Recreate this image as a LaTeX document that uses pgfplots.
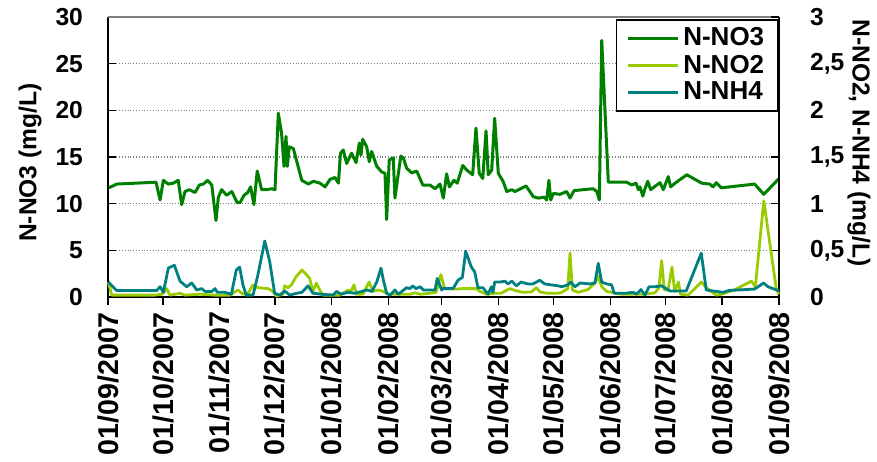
\documentclass[border=0pt]{standalone}
\usepackage{fontspec}
\setmainfont{Liberation Sans}
\usepackage{pgfplots}
\pgfplotsset{compat=1.18}

\definecolor{cno3}{RGB}{0,128,0}
\definecolor{cno2}{RGB}{153,204,0}
\definecolor{cnh4}{RGB}{0,128,128}

\pgfplotsset{
  base/.style={
    scale only axis, width=335.5pt, height=140pt,
    xmin=0, xmax=366, clip=false,
    /pgf/number format/assume math mode=true,
    tick label style={font=\bfseries\fontsize{12.3}{14}\selectfont},
    label style={font=\bfseries\fontsize{12.3}{14}\selectfont},
    axis line style={line width=0.8pt},
    every tick/.style={black, line width=0.8pt},
    major tick length=4pt,
  }
}

\begin{document}
\begin{tikzpicture}
% left axis: N-NO3 (mg/L), x in days from 01/09/2007
\begin{axis}[base,
  axis x line*=bottom, axis y line*=left,
  ymin=0, ymax=30, ytick={0,5,...,30},
  xtick={0,30,61,91,122,153,182,213,243,274,304,335,366},
  xticklabels={01/09/2007,01/10/2007,01/11/2007,01/12/2007,01/01/2008,01/02/2008,01/03/2008,01/04/2008,01/05/2008,01/06/2008,01/07/2008,01/08/2008,01/09/2008},
  xtick align=outside, ytick align=inside,
  x tick label style={rotate=90, anchor=east, font=\bfseries\fontsize{14.3}{16}\selectfont},
  y tick label style={xshift=-9pt},
  ymajorgrids, grid style={gray, densely dotted, line width=0.6pt},
  ylabel={N-NO3 (mg/L)},
  ylabel style={at={([xshift=-39pt]axis description cs:0,0.48)}, anchor=center},
]
\addplot[cno3, line width=1.5pt, line join=round] coordinates {
(0.5,11.7)(4.7,12.1)(26.2,12.3)(28.4,10.4)(30.2,12.5)(32.9,12.1)(35.6,12.2)(38.3,12.5)
(40.2,9.9)(42.0,11.3)(44.3,11.5)(47.5,11.2)(49.8,12.0)(52.0,12.1)(54.4,12.5)(56.6,12.0)
(58.9,8.2)(60.2,10.7)(62.0,11.5)(64.7,10.9)(67.5,11.3)(70.5,10.1)(72.0,10.1)(74.2,10.9)
(76.2,11.2)(77.8,11.8)(79.6,9.9)(81.4,13.5)(83.8,11.5)(86.6,11.5)(89.3,11.6)(91.1,11.5)
(92.9,19.7)(94.7,17.5)(96.0,14.0)(97.1,17.2)(97.8,14.0)(98.9,16.1)(101.1,15.9)(105.7,12.5)
(109.3,12.1)(112.0,12.4)(115.6,12.2)(118.4,11.8)(121.1,12.6)(123.8,12.8)(125.7,12.2)
(126.8,15.4)(128.3,15.75)(130.2,14.3)(131.1,14.7)(132.9,15.4)(135.3,14.4)(137.1,16.5)
(138.0,15.2)(138.9,16.9)(141.1,16.1)(142.5,14.5)(143.8,15.6)(146.6,14.0)(149.3,13.4)
(151.1,13.25)(152.0,8.3)(153.4,14.7)(155.6,14.9)(156.5,10.6)(159.7,15.1)(161.1,14.9)
(162.9,13.8)(165.7,13.3)(168.4,13.5)(171.7,12.0)(175.6,12.0)(178.4,11.6)(181.1,12.1)
(182.9,10.6)(184.7,13.2)(186.2,11.8)(188.7,12.5)(190.5,12.2)(193.5,14.1)(195.7,13.6)
(198.9,13.1)(200.7,18.1)(202.5,13.25)(204.4,12.7)(206.2,17.8)(207.4,13.1)(209.3,13.6)
(210.9,19.15)(212.9,13.25)(215.6,12.35)(217.5,11.3)(220.2,11.5)(222.0,11.3)(228.0,11.9)
(232.0,10.75)(234.7,10.6)(238.0,10.7)(239.3,10.4)(240.5,12.5)(241.5,10.4)(242.9,11.1)
(246.5,11.0)(250.2,11.3)(252.0,10.6)(254.2,11.4)(259.3,11.5)(264.7,11.6)(266.6,11.3)
(268.0,10.4)(269.3,27.5)(272.9,12.3)(282.9,12.3)(285.7,12.0)(288.0,12.2)(289.3,11.5)
(290.2,11.8)(291.7,10.8)(292.9,11.6)(294.4,12.4)(296.0,11.5)(299.3,12.0)(301.1,12.25)
(302.9,11.5)(305.6,12.9)(306.9,11.8)(309.3,12.2)(315.7,13.1)(323.8,12.2)(328.2,12.1)
(330.0,11.8)(331.8,12.25)(334.5,11.7)(352.7,12.1)(357.7,11.0)(366.0,12.7)
};
\draw[gray, line width=1pt] (rel axis cs:0,1) -- (rel axis cs:1,1);
\end{axis}

% right axis: N-NO2, N-NH4 (mg/L)
\begin{axis}[base,
  axis x line=none, axis y line*=right,
  ymin=0, ymax=3, ytick={0,0.5,...,3},
  /pgf/number format/use comma,
  ytick align=inside,
  y tick label style={xshift=12pt},
  ylabel={N-NO2, N-NH4 (mg/L)},
  every axis y label/.style={at={([xshift=40pt]axis description cs:1,0.55)}, rotate=-90, anchor=center,
    font=\bfseries\fontsize{12.3}{14}\selectfont},
  legend style={at={(1,0.993)}, anchor=north east, draw=black, line width=0.8pt,
    font=\bfseries\fontsize{13}{15}\selectfont, inner xsep=5pt, inner ysep=2pt,
    row sep=-1pt, cells={anchor=west}},
  legend image code/.code={\draw[#1] (0pt,0pt) -- (25pt,0pt);},
]
\addlegendimage{cno3, line width=1.5pt}
\addlegendentry{N-NO3}
\addplot[cno2, line width=1.4pt, line join=round] coordinates {
(0.2,0.16)(2.0,0.02)(25.6,0.02)(29.5,0.03)(32.0,0.09)(33.8,0.02)(39.3,0.04)(42.0,0.02)
(50.2,0.03)(58.4,0.02)(66.5,0.02)(70.9,0.075)(73.6,0.03)(76.4,0.04)(79.1,0.13)(81.8,0.1)
(87.3,0.09)(90.0,0.06)(91.8,0.01)(95.5,0.03)(96.4,0.12)(98.2,0.1)(100.0,0.13)(102.7,0.22)
(105.8,0.29)(108.2,0.24)(110.0,0.2)(111.8,0.06)(113.6,0.15)(115.5,0.075)(117.3,0.02)
(126.5,0.02)(131.1,0.075)(132.5,0.06)(134.2,0.13)(135.6,0.03)(139.1,0.03)(141.1,0.11)
(142.5,0.16)(144.4,0.06)(147.4,0.075)(150.0,0.06)(152.9,0.03)(159.3,0.03)(164.7,0.03)
(167.5,0.045)(170.2,0.03)(175.6,0.04)(178.9,0.05)(181.6,0.24)(183.6,0.09)(186.0,0.09)
(190.0,0.085)(193.6,0.09)(200.9,0.09)(202.9,0.06)(206.4,0.03)(210.9,0.04)(214.4,0.04)
(219.1,0.09)(222.0,0.07)(226.4,0.05)(230.9,0.055)(233.6,0.1)(235.6,0.055)(239.3,0.04)
(245.5,0.04)(247.5,0.05)(250.8,0.09)(252.0,0.47)(253.3,0.075)(256.4,0.05)(261.8,0.08)
(265.6,0.15)(267.4,0.22)(269.3,0.11)(272.0,0.06)(280.2,0.03)(292.9,0.03)(298.4,0.045)
(300.5,0.1)(302.0,0.39)(303.4,0.075)(305.5,0.075)(307.6,0.32)(309.1,0.06)(311.2,0.16)
(312.3,0.03)(316.4,0.02)(323.6,0.16)(326.9,0.09)(331.8,0.02)(334.7,0.03)(342.0,0.08)
(350.9,0.17)(353.1,0.11)(357.7,1.03)(364.5,0.09)(366.0,0.03)
};
\addlegendentry{N-NO2}
\addplot[cnh4, line width=1.4pt, line join=round] coordinates {
(0.2,0.16)(4.7,0.07)(26.6,0.07)(28.4,0.11)(30.2,0.05)(32.9,0.31)(36.2,0.34)(39.3,0.17)
(42.9,0.11)(45.7,0.15)(48.4,0.075)(51.1,0.09)(52.9,0.06)(56.6,0.06)(58.4,0.09)(59.6,0.05)
(63.7,0.05)(67.3,0.03)(70.0,0.29)(71.8,0.32)(73.6,0.13)(75.4,0.02)(79.1,0.02)(81.8,0.24)
(85.5,0.6)(88.2,0.38)(90.9,0.04)(93.7,0.02)(96.4,0.065)(99.1,0.02)(102.9,0.04)(105.8,0.05)
(109.1,0.12)(111.8,0.04)(116.3,0.03)(122.7,0.02)(124.7,0.06)(127.1,0.03)(130.9,0.05)
(134.7,0.04)(138.5,0.06)(141.1,0.075)(144.0,0.06)(146.6,0.16)(148.9,0.31)(150.2,0.18)
(152.0,0.04)(153.8,0.02)(156.5,0.075)(158.3,0.03)(162.9,0.1)(164.7,0.09)(166.2,0.12)
(168.0,0.09)(170.2,0.11)(172.0,0.075)(178.4,0.075)(179.6,0.2)(182.0,0.075)(182.7,0.09)
(188.2,0.09)(190.9,0.18)(193.3,0.21)(195.1,0.49)(198.2,0.32)(200.0,0.27)(201.8,0.1)
(204.5,0.1)(207.3,0.03)(209.1,0.11)(210.0,0.05)(210.9,0.16)(213.8,0.16)(216.5,0.17)
(218.2,0.14)(220.2,0.17)(222.7,0.12)(225.3,0.16)(229.1,0.14)(231.8,0.14)(235.5,0.18)
(238.2,0.14)(241.6,0.13)(245.5,0.12)(247.5,0.11)(250.8,0.13)(252.5,0.16)(254.7,0.11)
(257.5,0.15)(262.9,0.14)(265.6,0.15)(267.4,0.36)(269.3,0.16)(272.0,0.14)(274.7,0.13)
(276.1,0.04)(282.0,0.04)(286.5,0.05)(288.3,0.03)(290.7,0.08)(292.9,0.02)(295.1,0.11)
(298.4,0.11)(302.0,0.12)(304.4,0.09)(306.5,0.065)(315.4,0.065)(323.6,0.47)(326.3,0.075)
(335.5,0.05)(338.7,0.07)(352.7,0.085)(357.6,0.15)(360.0,0.11)(366.0,0.065)
};
\addlegendentry{N-NH4}
\end{axis}
\pgfresetboundingbox
\path (-54pt,-82pt) rectangle (384.5pt,148.5pt);
\end{tikzpicture}
\end{document}
